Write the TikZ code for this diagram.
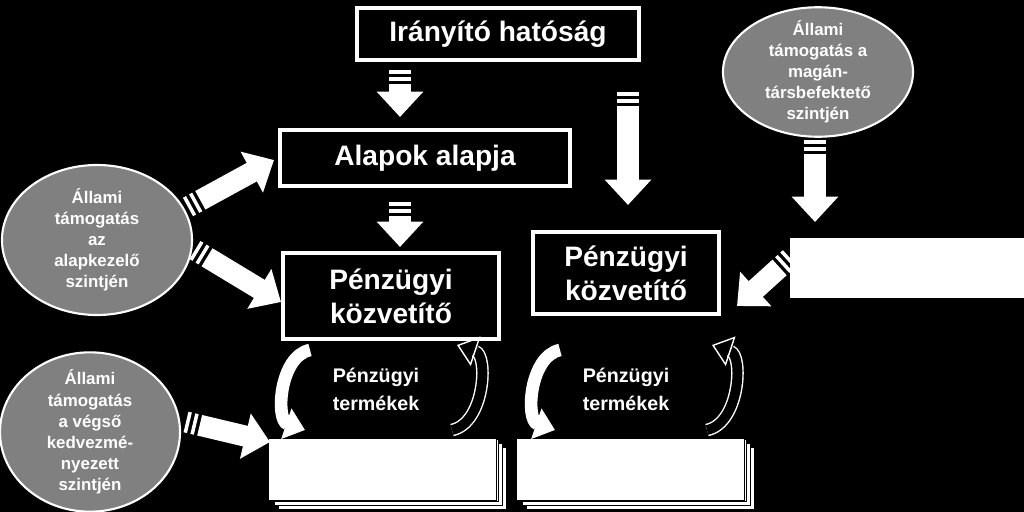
\documentclass[tikz,border=0pt]{standalone}
\usepackage{fontspec}
\setmainfont{Liberation Sans}
\usetikzlibrary{shapes,arrows.meta,positioning,calc}

\tikzset{
  box/.style={draw=white,line width=2.5pt,fill=black,text=white,font=\bfseries\fontsize{20}{24}\selectfont,align=center,inner sep=0pt},
  oval/.style={ellipse,draw=white,line width=1.5pt,fill=gray,text=white,font=\bfseries\fontsize{12}{15}\selectfont,align=center,inner sep=-4pt},
  label/.style={text=white,font=\bfseries\fontsize{14}{20}\selectfont,align=center},
  page/.style={fill=white,draw=black,line width=0.6pt,minimum width=5.7cm,minimum height=1.55cm,inner sep=0pt},
}
% block arrow with a striped tail
\newcommand{\blockarrow}[2]{%
  \draw[white,line width=15pt] (#1) -- ($(#1)!2.5pt!(#2)$);
  \draw[white,line width=15pt] ($(#1)!5pt!(#2)$) -- ($(#1)!7.5pt!(#2)$);
  \draw[white,line width=15pt,-{Triangle[width=32pt,length=18pt]}] ($(#1)!10pt!(#2)$) -- (#2);}

\begin{document}
\begin{tikzpicture}[x=0.025cm,y=-0.025cm]
\useasboundingbox (0,0) rectangle (1024,512);
\fill[black] (0,0) rectangle (1024,512);
\clip (0,0) rectangle (1024,512);

\node[box,minimum width=7.05cm,minimum height=1.3cm] (iranyito) at (498,34) {Irányító hatóság};
\node[box,minimum width=7.25cm,minimum height=1.4cm] (alapok) at (425,158) {Alapok alapja};
\node[box,minimum width=5.4cm,minimum height=2.15cm] (pk1) at (391,296) {Pénzügyi\\közvetítő};
\node[box,minimum width=4.65cm,minimum height=2.05cm] (pk2) at (626,273) {Pénzügyi\\közvetítő};
\node[fill=white,minimum width=5.9cm,minimum height=1.5cm,inner sep=0pt] (magan) at (908,268) {};

\node[oval,minimum width=4.75cm,minimum height=3.1cm] (ovtr) at (818,72) {Állami\\támogatás a\\magán-\\társbefektető\\szintjén};
\node[oval,minimum width=4.75cm,minimum height=3.75cm] (ovl) at (97,240) {Állami\\támogatás\\az\\alapkezelő\\szintjén};
\node[oval,minimum width=4.5cm,minimum height=3.9cm] (ovb) at (90,432) {Állami\\támogatás\\a végső\\kedvezmé-\\nyezett\\szintjén};

% stacked sheets
\foreach \d in {8,4,0}{
  \node[page] at (384+\d,470+\d) {};
  \node[page] at (632+\d,470+\d) {};
}
\node[page] (lap1) at (382,469) {};
\node[page] (lap2) at (630,469) {};

\node[label] (termek1) at (376,389) {Pénzügyi\\termékek};
\node[label] (termek2) at (626,389) {Pénzügyi\\termékek};

% connectors
\coordinate (a1) at (400,70);  \coordinate (b1) at (400,117);
\coordinate (a2) at (400,202); \coordinate (b2) at (400,247);
\coordinate (a3) at (628,92);  \coordinate (b3) at (628,205);
\coordinate (a4) at (815,140); \coordinate (b4) at (815,222);
\coordinate (a5) at (790,258); \coordinate (b5) at (737,306);
\coordinate (a6) at (188,207); \coordinate (b6) at (274,160);
\coordinate (a7) at (195,250); \coordinate (b7) at (281,302);
\coordinate (a8) at (186,422); \coordinate (b8) at (270,442);
\foreach \i in {1,...,8}{\blockarrow{a\i}{b\i}}

% cycles
\draw[white,line width=9pt,-{Triangle[width=22pt,length=14pt]}] (310,350) to[bend right=75] (305,430);
\draw[white,line width=9pt,-{Triangle[width=22pt,length=14pt]}] (560,350) to[bend right=75] (555,430);
\draw[white,double=black,line width=1pt,double distance=7pt,-{Triangle[open,width=22pt,length=14pt]}] (452,430) to[bend right=75] (457,345);
\draw[white,double=black,line width=1pt,double distance=7pt,-{Triangle[open,width=22pt,length=14pt]}] (707,430) to[bend right=75] (712,345);
\end{tikzpicture}
\end{document}
